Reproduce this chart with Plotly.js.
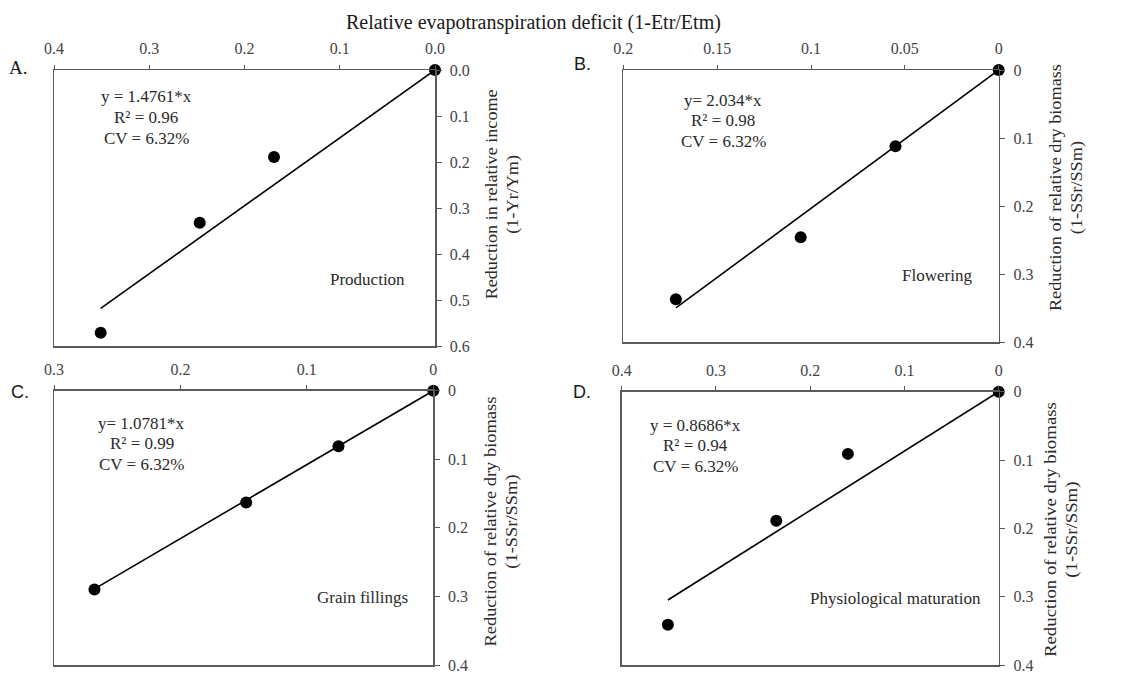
<!DOCTYPE html>
<html>
<head>
<meta charset="utf-8">
<script src="https://cdn.plot.ly/plotly-3.0.1.min.js"></script>
<style>html,body{margin:0;padding:0;background:#fff;}#chart{width:1121px;height:675px;}</style>
</head>
<body>
<div id="chart"></div>
<script>
// ---- Data ----
const xA = [0, 0.169, 0.247, 0.351];
const yA = [0, 0.189, 0.332, 0.571];
const slopeA = 1.4761;

const xB = [0, 0.055, 0.1055, 0.172];
const yB = [0, 0.112, 0.246, 0.337];
const slopeB = 2.034;

const xC = [0, 0.075, 0.148, 0.268];
const yC = [0, 0.081, 0.163, 0.290];
const slopeC = 1.0781;

const xD = [0, 0.160, 0.236, 0.351];
const yD = [0, 0.091, 0.189, 0.341];
const slopeD = 0.8686;

const xTicksA = [0.4, 0.3, 0.2, 0.1, 0.0];
const xTickTextA = ["0.4", "0.3", "0.2", "0.1", "0.0"];
const yTicksA = [0, 0.1, 0.2, 0.3, 0.4, 0.5, 0.6];
const yTickTextA = ["0.0", "0.1", "0.2", "0.3", "0.4", "0.5", "0.6"];

const xTicksB = [0.2, 0.15, 0.1, 0.05, 0];
const xTickTextB = ["0.2", "0.15", "0.1", "0.05", "0"];
const yTicksB = [0, 0.1, 0.2, 0.3, 0.4];
const yTickTextB = ["0", "0.1", "0.2", "0.3", "0.4"];

const xTicksC = [0.3, 0.2, 0.1, 0];
const xTickTextC = ["0.3", "0.2", "0.1", "0"];
const yTicksC = [0, 0.1, 0.2, 0.3, 0.4];
const yTickTextC = ["0", "0.1", "0.2", "0.3", "0.4"];

const xTicksD = [0.4, 0.3, 0.2, 0.1, 0];
const xTickTextD = ["0.4", "0.3", "0.2", "0.1", "0"];
const yTicksD = [0, 0.1, 0.2, 0.3, 0.4];
const yTickTextD = ["0", "0.1", "0.2", "0.3", "0.4"];

const eqA = ["y = 1.4761*x", "R² = 0.96", "CV = 6.32%"];
const eqB = ["y= 2.034*x", "R² = 0.98", "CV = 6.32%"];
const eqC = ["y= 1.0781*x", "R² = 0.99", "CV = 6.32%"];
const eqD = ["y = 0.8686*x", "R² = 0.94", "CV = 6.32%"];

const stageA = "Production", stageB = "Flowering", stageC = "Grain fillings", stageD = "Physiological maturation";
const yTitleA = "Reduction in relative income<br>(1-Yr/Ym)";
const yTitleBCD = "Reduction of relative dry biomass<br>(1-SSr/SSm)";
const xTitle = "Relative evapotranspiration deficit (1-Etr/Etm)";

// ---- Build ----
const W = 1121, H = 675;
const px = v => v / W;
const py = v => 1 - v / H;
const SERIF = "Liberation Serif, Times New Roman, serif";
const SANS = "Liberation Sans, Arial, sans-serif";
const tickFont = {family: SERIF, size: 16, color: "#444"};
const axisCol = "#5a5a5a";
const textCol = "#2a2a2a";

function fitLine(xs, slope) {
  const xmax = Math.max.apply(null, xs);
  return {x: [0, xmax], y: [0, slope * xmax]};
}

const panels = [
  {xs: xA, ys: yA, s: slopeA, xr: [0.4, 0], yr: [0.6, 0], xt: xTicksA, xtt: xTickTextA, yt: yTicksA, ytt: yTickTextA,
   dx: [54, 435], dy: [70, 346]},
  {xs: xB, ys: yB, s: slopeB, xr: [0.2, 0], yr: [0.4, 0], xt: xTicksB, xtt: xTickTextB, yt: yTicksB, ytt: yTickTextB,
   dx: [623.3, 998.7], dy: [70, 342]},
  {xs: xC, ys: yC, s: slopeC, xr: [0.3, 0], yr: [0.4, 0], xt: xTicksC, xtt: xTickTextC, yt: yTicksC, ytt: yTickTextC,
   dx: [54, 433.3], dy: [390.7, 665]},
  {xs: xD, ys: yD, s: slopeD, xr: [0.4, 0], yr: [0.4, 0], xt: xTicksD, xtt: xTickTextD, yt: yTicksD, ytt: yTickTextD,
   dx: [621.7, 998.7], dy: [391.7, 665]}
];

const traces = [];
const layout = {
  width: W, height: H,
  margin: {l: 0, r: 0, t: 0, b: 0},
  paper_bgcolor: "#fff", plot_bgcolor: "#fff",
  showlegend: false,
  annotations: [],
  font: {family: SERIF, color: textCol}
};

panels.forEach((p, i) => {
  const n = i === 0 ? "" : String(i + 1);
  const xa = "x" + n, ya = "y" + n;
  const ln = fitLine(p.xs, p.s);
  traces.push({x: ln.x, y: ln.y, xaxis: xa, yaxis: ya, mode: "lines", type: "scatter",
    line: {color: "#000", width: 1.6}, cliponaxis: false, hoverinfo: "skip"});
  traces.push({x: p.xs, y: p.ys, xaxis: xa, yaxis: ya, mode: "markers", type: "scatter",
    marker: {color: "#000", size: 12}, cliponaxis: false});
  layout["xaxis" + n] = {
    domain: [px(p.dx[0]), px(p.dx[1])], range: p.xr, anchor: ya, side: "top",
    showline: true, mirror: true, linecolor: axisCol, linewidth: 1.5,
    ticks: "outside", ticklen: 4, tickcolor: axisCol, tickwidth: 1, ticklabelstandoff: 4,
    ticklabeloverflow: "allow",
    tickvals: p.xt, ticktext: p.xtt, tickfont: tickFont, showgrid: false, zeroline: false
  };
  layout["yaxis" + n] = {
    domain: [py(p.dy[1]), py(p.dy[0])], range: p.yr, anchor: xa, side: "right",
    showline: true, mirror: true, linecolor: axisCol, linewidth: 1.5,
    ticks: "outside", ticklen: 5, tickcolor: axisCol, tickwidth: 1, ticklabelstandoff: 5,
    ticklabeloverflow: "allow",
    tickvals: p.yt, ticktext: p.ytt, tickfont: tickFont, showgrid: false, zeroline: false
  };
});

function ann(text, x, y, opts) {
  layout.annotations.push(Object.assign({
    text: text, x: px(x), y: py(y), xref: "paper", yref: "paper",
    showarrow: false, xanchor: "center", yanchor: "middle",
    font: {family: SERIF, size: 17, color: textCol}
  }, opts || {}));
  return layout.annotations.length - 1;
}

// Global x title
ann(xTitle, 533, 22, {font: {family: SERIF, size: 20, color: "#1a1a1a"}});

// Panel letters
ann("A.", 18, 67, {font: {family: SERIF, size: 19, color: "#1a1a1a"}});
ann("B.", 582, 64, {font: {family: SANS, size: 18, color: "#1a1a1a"}});
ann("C.", 20, 392, {font: {family: SANS, size: 18, color: "#1a1a1a"}});
ann("D.", 582, 392, {font: {family: SANS, size: 18, color: "#1a1a1a"}});

// Equations
const eqs = [[eqA, 146, 96.7], [eqB, 723, 100], [eqC, 141.7, 423], [eqD, 696, 425]];
eqs.forEach(e => {
  e[0].forEach((t, k) => ann(t, e[1], e[2] + k * 20.7));
});

// Stage labels
ann(stageA, 367, 280);
ann(stageB, 937, 275);
ann(stageC, 362, 597);
ann(stageD, 895, 598);

// Right y titles (stretched along their length like the reference)
const ytOpts = {textangle: -90, font: {family: SERIF, size: 16, color: textCol}};
const yTitleIdx = [
  [ann(yTitleA, 503, 195, ytOpts), 210],
  [ann(yTitleBCD, 1066, 188, ytOpts), 247],
  [ann(yTitleBCD, 501, 522, ytOpts), 250],
  [ann(yTitleBCD, 1061, 530, ytOpts), 255]
];

Plotly.newPlot("chart", traces, layout, {staticPlot: true, displayModeBar: false}).then(gd => {
  yTitleIdx.forEach(([idx, target]) => {
    const g = gd.querySelector('.annotation[data-index="' + idx + '"]');
    if (!g) return;
    const lines = g.querySelectorAll('tspan.line');
    if (!lines.length) return;
    const first = lines[0].getComputedTextLength();
    if (!first) return;
    const f = target / first;
    lines.forEach(t => {
      const L = t.getComputedTextLength();
      t.setAttribute('textLength', (L * f).toFixed(1));
      t.setAttribute('lengthAdjust', 'spacingAndGlyphs');
    });
  });
});
</script>
</body>
</html>
